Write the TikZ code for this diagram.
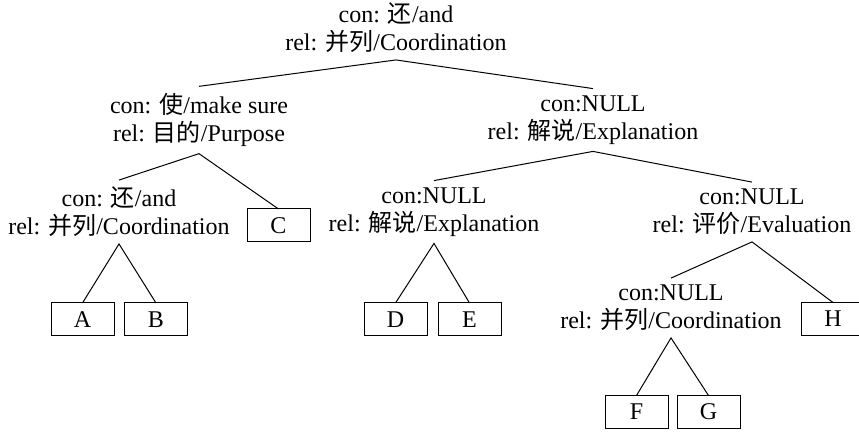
\documentclass[tikz,border=0pt]{standalone}
\usepackage{fontspec}
\setmainfont{Liberation Serif}
\newfontfamily\cjk{Noto Sans CJK SC}
\newcommand{\zh}[1]{{\cjk #1}}

\begin{document}
\begin{tikzpicture}[
            x=0.5pt, y=-0.5pt,
            treeline/.style={color=black, line width=0.5pt},
            relnode/.style={align=center, inner sep=3.5pt, outer sep=0pt, font=\fontsize{12}{14}\selectfont},
            leafnode/.style={draw, line width=0.5pt, minimum width=31.5pt, minimum height=16.5pt, inner sep=0pt, outer sep=0pt, font=\fontsize{12}{14}\selectfont}
        ]
            \useasboundingbox (0, 0) rectangle (859, 433);

            % relation nodes
            \node[relnode] (root) at (396, 28) {con: \zh{还}/and\\rel: \zh{并列}/Coordination};
            \node[relnode] (purpose) at (199, 120) {con: \zh{使}/make sure\\rel: \zh{目的}/Purpose};
            \node[relnode] (explain) at (593, 120) {con:NULL\\rel: \zh{解说}/Explanation};
            \node[relnode] (coordab) at (119, 212) {con: \zh{还}/and\\rel: \zh{并列}/Coordination};
            \node[relnode] (explainde) at (434, 212) {con:NULL\\rel: \zh{解说}/Explanation};
            \node[relnode] (evaluate) at (752, 212) {con:NULL\\rel: \zh{评价}/Evaluation};
            \node[relnode] (coordfg) at (671, 308) {con:NULL\\rel: \zh{并列}/Coordination};

            % leaves
            \node[leafnode] (C) at (278.5, 225.5) {C};
            \node[leafnode] (A) at (82.5, 319.5) {A};
            \node[leafnode] (B) at (156, 319.5) {B};
            \node[leafnode] (D) at (395.5, 319.5) {D};
            \node[leafnode] (E) at (469.5, 319.5) {E};
            \node[leafnode] (H) at (833, 319) {H};
            \node[leafnode] (F) at (636.5, 412) {F};
            \node[leafnode] (G) at (708.5, 412) {G};

            % branches
            \draw[treeline] (purpose.north) -- (root.south) -- (explain.north);
            \draw[treeline] (coordab.north) -- (purpose.south) -- (C.north);
            \draw[treeline] (A.north) -- (coordab.south) -- (B.north);
            \draw[treeline] (explainde.north) -- (explain.south) -- (evaluate.north);
            \draw[treeline] (D.north) -- (explainde.south) -- (E.north);
            \draw[treeline] (coordfg.north) -- (evaluate.south) -- (H.north);
            \draw[treeline] (F.north) -- (coordfg.south) -- (G.north);

        \end{tikzpicture}
\end{document}
